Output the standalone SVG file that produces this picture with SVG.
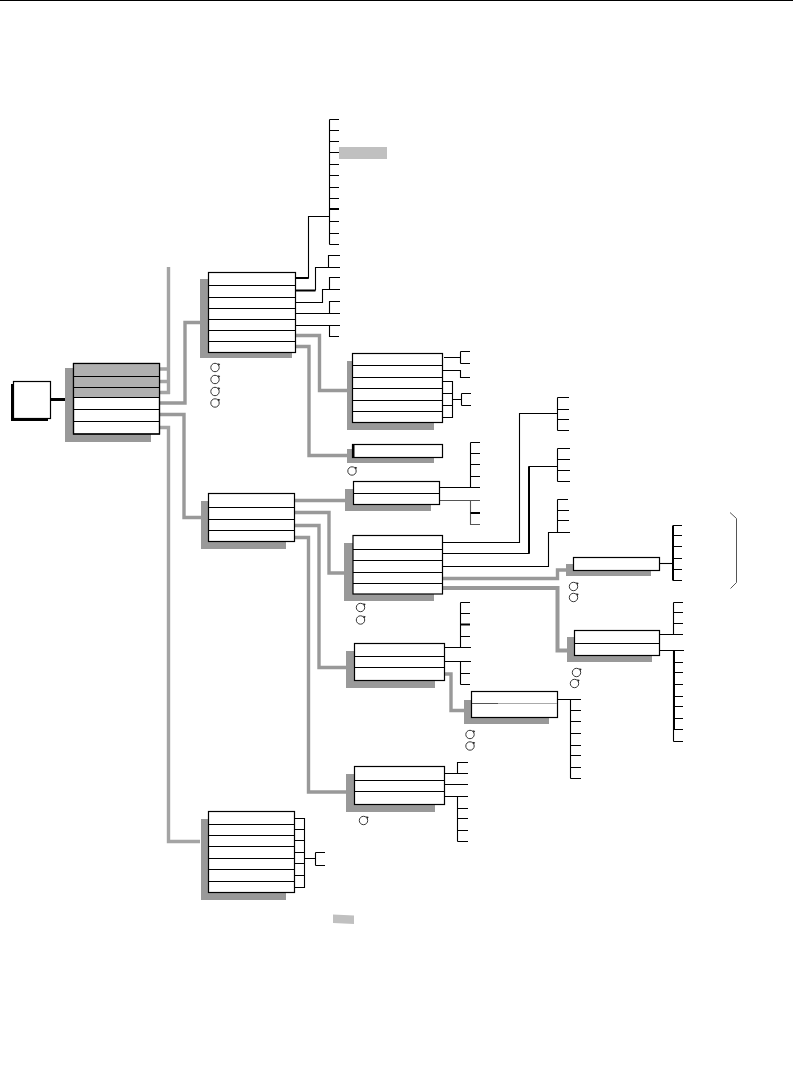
<svg xmlns="http://www.w3.org/2000/svg" width="793" height="1088" viewBox="0 0 793 1088">
<style>
.bg{fill:#fff}
.sh{fill:#999}
.box{fill:#fff;stroke:#000;stroke-width:1.2}
.hd{fill:#b0b0b0}
.row{fill:none;stroke:#000;stroke-width:1}
.l{fill:none;stroke:#000;stroke-width:1.1}
.t{fill:none;stroke:#000;stroke-width:2}
.r{fill:none;stroke:#000;stroke-width:3}
.g{fill:none;stroke:#999;stroke-width:3.4}
.g4{fill:none;stroke:#999;stroke-width:4}
.lg{fill:none;stroke:#a4a4a4;stroke-width:3.4}
.pad{fill:#c0c0c0}
.rc{fill:none;stroke:#222;stroke-width:.9}
</style>
<defs>
<g id="rot"><circle class="rc" cx="0" cy="0" r="4.2"/><path d="M2.6 -4.2L5.2 -3.6L3.8 -1.6Z" fill="#222"/></g>
</defs>
<rect class="bg" width="793" height="1088"/>
<path d="M0 0.5H793" stroke="#000" stroke-width="1"/>

<g id="connectors">
<path class="lg" d="M168.5 267V394M160 369H170M160 381.5H170M160 392.5H170"/>
<path class="g" d="M160 403H185V322.5H200M160 414.5H184V517.5H201"/>
<path class="lg" d="M160 427.5H168.5V841.5H200"/>
<path class="r" d="M51 399.5H66"/>
<path class="l" d="M296 278H308.5V216.5H329.5M329.5 119.5V244.5M329.5 119.5H339M329.5 130.5H339M329.5 141.5H339M329.5 152.5H339M329.5 164.5H339M329.5 175.5H339M329.5 187.5H339M329.5 198.5H339M329.5 221.5H339M329.5 233.5H339M329.5 244.5H339"/>
<path class="t" d="M329.5 209H339M296 278H308.5M296 290.5H315.5"/>
<path class="l" d="M315.5 290.5V267.5H340M328.5 267.5V255.5H340M296 302.5H322.5V289.5H340M329.5 289.5V277.5H340M296 313.5H340M329.5 313.5V301.5H340M296 325.5H340M329.5 325.5V336.5H339"/>
<path class="g" d="M296 335.5H319.5V390.5H347M296 346.5H309V455.5H350"/>
<path class="l" d="M444 357.5H460.5M460.5 351.5V363.5M460.5 351.5H470M460.5 363.5H470M443 370.5H460.5V377.5H470M443 381.5H452.5V417.5H443M443 393.5H452.5M443 405.5H452.5M452.5 399.5H461.5M461.5 393.5V405.5M461.5 393.5H471M461.5 405.5H471"/>
<path class="l" d="M440 487.5H480M470.5 442.5V487.5M470.5 442.5H480M470.5 453.5H480M470.5 464.5H480M470.5 476.5H480"/>
<path d="M440 500.5H480M470.5 500.5V524.5H480" fill="none" stroke="#555" stroke-width="1.1"/>
<path class="t" d="M470.5 513H480"/>
<path class="g" d="M295 500.5H345M295 512.5H329V573H344M295 525.5H319V667.5H346M295 537.5H308.5V792H346"/>
<path class="l" d="M443 542.5H519.5V413.5H557.5M557.5 397.5V430.5M557.5 397.5H569M557.5 409.5H569M557.5 419.5H569M557.5 430.5H569M443 553.5H529V466.5H557.5M557.5 448.5V481.5M557.5 448.5H570M557.5 459.5H570M557.5 470.5H570M557.5 481.5H570M443 566.5H548.5V532.5H570M557.5 499.5V532.5M557.5 499.5H568M557.5 510.5H569M557.5 520.5H569"/>
<path class="t" d="M529 553.5V466.5"/>
<path class="g" d="M443 578.5H557.5V570H567"/>
<path class="g4" d="M443 588H557.5V650.5H567"/>
<path class="l" d="M660 563.5H673"/>
<path class="t" d="M673 525.5V580.5"/>
<path class="l" d="M673 525.5H682M673 535.5H682M673 546.5H682M673 558.5H682M673 569.5H682M673 580.5H682"/>
<path class="l" d="M660 634.5H683M673.5 602.5V634.5M673.5 602.5H683M673.5 612.5H683M673.5 623.5H683M660 650.5H684M673.5 650.5V741.5M673.5 662.5H683M673.5 672.5H683M673.5 684.5H683M673.5 696.5H683M673.5 706.5H683M673.5 718.5H683M673.5 729.5H683M673.5 741.5H683"/>
<path class="t" d="M674 650.5V729.5"/>
<path class="l" d="M445 647.5H471M460.5 602.5V647.5M460.5 602.5H470M460.5 613.5H470M460.5 636.5H470M445 661.5H471M460.5 661.5V684.5M460.5 673.5H470M460.5 684.5H470"/>
<path class="t" d="M460.5 624.5H470"/>
<path class="g" d="M445 674H451V710.5H464"/>
<path class="l" d="M558 699.5H581M570.5 699.5V778.5M570.5 710.5H581M570.5 721.5H581M570.5 733.5H581M570.5 745.5H581M570.5 755.5H581M570.5 767.5H581M570.5 778.5H581"/>
<path class="l" d="M445 773.5H468M457.5 773.5V762.5H468M445 784.5H468M445 796.5H468M457.5 796.5V841.5M457.5 808.5H468M457.5 818.5H468M457.5 830.5H468M457.5 841.5H468"/>
<path class="l" d="M295 818.5H304.5V887.5H295M295 829.5H304.5M295 840.5H304.5M295 852.5H304.5M295 863.5H304.5M295 875.5H304.5M304.5 858.5H315.5M315.5 852.5V865.5M315.5 852.5H325M315.5 865.5H325"/>
</g>

<g id="root"><rect x="11" y="384" width="37" height="37" fill="#000"/><rect class="box" x="13.5" y="381.5" width="37" height="37"/></g>

<g id="main">
<rect class="sh" x="65" y="368" width="86" height="74"/>
<rect class="box" x="73.5" y="363.5" width="86" height="70.5"/>
<rect class="hd" x="74" y="364" width="85" height="33"/>
<path class="row" d="M74 376.5H159M74 387.5H159M74 397.5H159M74 409.5H159M74 421.5H159"/>
<rect x="73.5" y="363.5" width="86" height="70.5" fill="none" stroke="#000" stroke-width="1.2"/>
</g>

<g id="box-a">
<rect class="sh" x="200" y="279" width="92" height="79"/>
<rect class="box" x="208.5" y="272.5" width="87" height="80"/>
<path class="row" d="M209 285.5H295M209 297.5H295M209 308.5H295M209 319.5H295M209 330.5H295M209 341.5H295"/>
<use href="#rot" x="215" y="367.5"/><use href="#rot" x="215" y="379.5"/><use href="#rot" x="215" y="391.5"/><use href="#rot" x="215" y="403"/>
</g>

<g id="box-b">
<rect class="sh" x="347" y="361" width="87" height="69"/>
<rect class="box" x="352.5" y="353.5" width="90" height="69"/>
<path class="row" d="M353 365.5H442M353 377.5H442M353 388.5H442M353 400.5H442M353 411.5H442"/>
</g>

<g id="box-c">
<rect class="sh" x="347" y="449" width="87" height="14"/>
<rect class="box" x="352.5" y="444.5" width="90" height="13"/>
<path class="t" d="M353.5 444.5V457.5"/>
<use href="#rot" x="352" y="471"/>
</g>

<g id="box-d">
<rect class="sh" x="345" y="489" width="86" height="22"/>
<rect class="box" x="353.5" y="481.5" width="86" height="23"/>
<path class="row" d="M354 493.5H439"/>
</g>

<g id="box-e">
<rect class="sh" x="344" y="543" width="90" height="58"/>
<rect class="box" x="353" y="535.5" width="89.5" height="58.5" stroke="#333"/>
<path class="row" d="M353 549.5H442M353 560.5H442M353 572.5H442M353 583.5H442"/>
<use href="#rot" x="360.5" y="607.5"/><use href="#rot" x="360.5" y="620"/>
</g>

<g id="box-f">
<rect class="sh" x="201" y="501" width="85" height="48"/>
<rect class="box" x="208.5" y="493.5" width="86" height="48"/>
<path class="row" d="M209 507.5H294M209 519.5H294M209 530.5H294"/>
</g>

<g id="box-g">
<rect class="sh" x="346" y="651" width="89" height="37"/>
<rect class="box" x="354.5" y="643.5" width="90" height="37"/>
<path class="row" d="M355 656.5H444M355 667.5H444"/>
</g>

<g id="box-h">
<rect class="sh" x="464" y="700" width="85" height="24"/>
<rect class="box" x="471.5" y="691.5" width="86" height="26"/>
<path d="M472 703.5H498" stroke="#555" stroke-width="1"/><path d="M498 703.5H557" stroke="#aaa" stroke-width="1"/>
<use href="#rot" x="470" y="734.5"/><use href="#rot" x="470" y="746"/>
</g>

<g id="box-i">
<rect class="sh" x="346" y="774" width="89" height="38"/>
<rect class="box" x="354.5" y="766.5" width="90" height="38"/>
<path class="row" d="M355 780.5H444M355 791.5H444"/>
<use href="#rot" x="363.5" y="820.5"/>
</g>

<g id="box-j">
<rect class="sh" x="201" y="819" width="85" height="81"/>
<rect class="box" x="208.5" y="811.5" width="86" height="81"/>
<path class="row" d="M209 824.5H294M209 835.5H294M209 846.5H294M209 858.5H294M209 869.5H294M209 881.5H294"/>
</g>

<g id="box-k">
<rect class="sh" x="566" y="564" width="85" height="12"/>
<rect class="box" x="573.5" y="557.5" width="86" height="13"/>
<use href="#rot" x="573.5" y="586.5"/><use href="#rot" x="573.5" y="597.5"/>
</g>

<g id="box-l">
<rect class="sh" x="567" y="637" width="85" height="25"/>
<rect class="box" x="574.5" y="630.5" width="85" height="25"/>
<path class="row" d="M575 643.5H659"/>
<use href="#rot" x="576.5" y="672.5"/><use href="#rot" x="574.5" y="683.5"/>
</g>

<g id="pad-1"><rect class="pad" x="339" y="147" width="48" height="12"/></g>
<g id="pad-2"><path class="pad" d="M333 914.5L354 915.5V924L333 923Z"/></g>
<g id="brace"><path d="M730 512.5L736.5 518.5V582.5L730.5 588.5" fill="none" stroke="#555" stroke-width="1"/></g>
</svg>
